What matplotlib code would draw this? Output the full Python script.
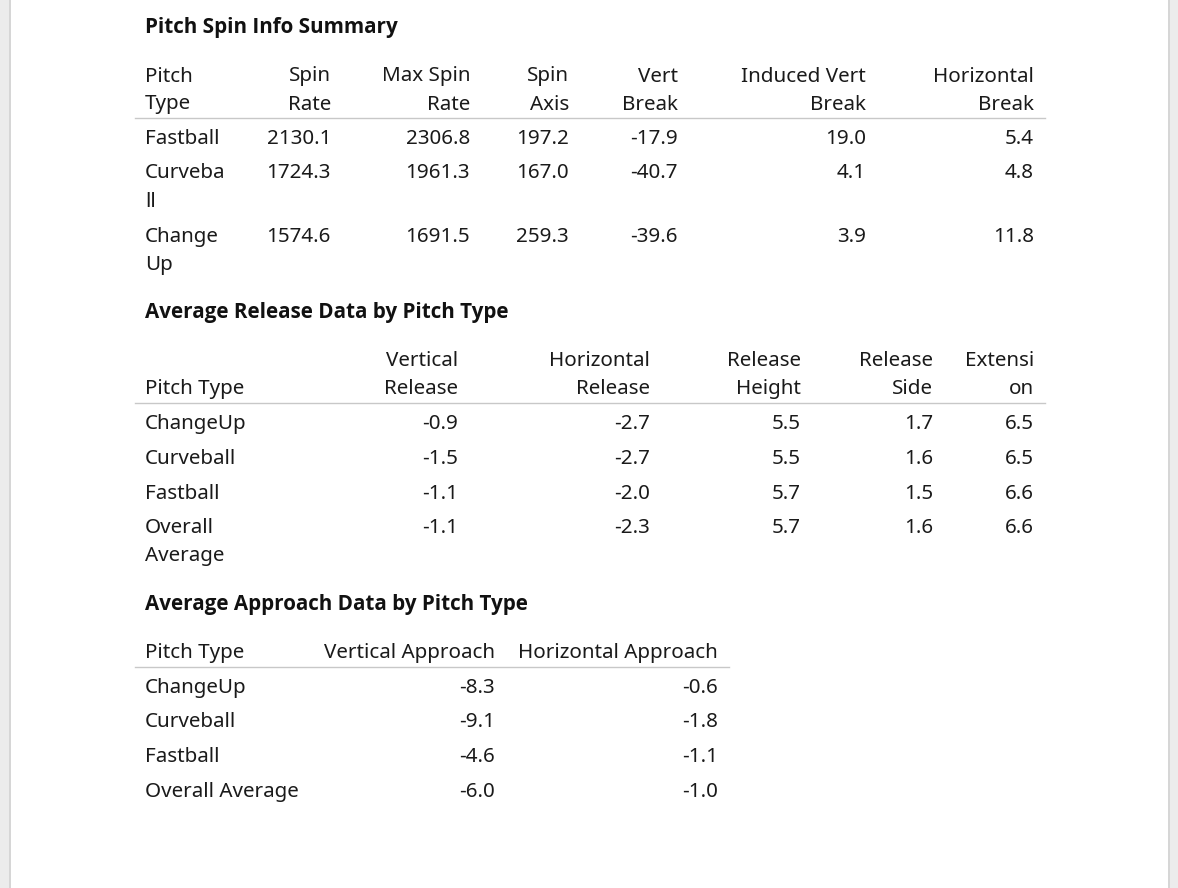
import matplotlib.pyplot as plt
from matplotlib.patches import Rectangle

# table 1: pitch spin info
spin_headers = [("Pitch", "Type"), ("Spin", "Rate"), ("Max Spin", "Rate"), ("Spin", "Axis"),
                ("Vert", "Break"), ("Induced Vert", "Break"), ("Horizontal", "Break")]
spin_pitch = [("Fastball",), ("Curveba", "ll"), ("Change", "Up")]
spin_rate = [2130.1, 1724.3, 1574.6]
max_spin_rate = [2306.8, 1961.3, 1691.5]
spin_axis = [197.2, 167.0, 259.3]
vert_break = [-17.9, -40.7, -39.6]
ivb = [19.0, 4.1, 3.9]
horiz_break = [5.4, 4.8, 11.8]

# table 2: release data
rel_headers = [("", "Pitch Type"), ("Vertical", "Release"), ("Horizontal", "Release"),
               ("Release", "Height"), ("Release", "Side"), ("Extensi", "on")]
rel_pitch = [("ChangeUp",), ("Curveball",), ("Fastball",), ("Overall", "Average")]
vert_release = [-0.9, -1.5, -1.1, -1.1]
horiz_release = [-2.7, -2.7, -2.0, -2.3]
rel_height = [5.5, 5.5, 5.7, 5.7]
rel_side = [1.7, 1.6, 1.5, 1.6]
extension = [6.5, 6.5, 6.6, 6.6]

# table 3: approach data
app_headers = [("Pitch Type",), ("Vertical Approach",), ("Horizontal Approach",)]
app_pitch = ["ChangeUp", "Curveball", "Fastball", "Overall Average"]
vert_approach = [-8.3, -9.1, -4.6, -6.0]
horiz_approach = [-0.6, -1.8, -1.1, -1.0]

FONT = "Noto Sans"
BOLD_FONT = "Open Sans"
FS = 14.85
TXT = "#1a1a1a"
LH = 28  # px between wrapped lines

fig = plt.figure(figsize=(11.78, 8.88), dpi=100)
ax = fig.add_axes([0, 0, 1, 1])
ax.set_xlim(0, 1178)
ax.set_ylim(888, 0)
ax.axis("off")

# page edges
ax.add_patch(Rectangle((0, 0), 9, 888, color="#ececec", lw=0))
ax.add_patch(Rectangle((9, 0), 1.5, 888, color="#d6d6d6", lw=0))
ax.add_patch(Rectangle((1169, 0), 9, 888, color="#ececec", lw=0))
ax.add_patch(Rectangle((1168, 0), 1.5, 888, color="#d6d6d6", lw=0))


def put(x, y, s, ha="left"):
    ax.text(x, y + 2.5, s, ha=ha, va="center", fontsize=FS, family=FONT, color=TXT)


def title(y, s):
    ax.text(145, y + 2, s, ha="left", va="center", fontsize=14.85, family=BOLD_FONT,
            fontweight="bold", color="#111111")


def lines(x, y, parts, ha):
    for i, p in enumerate(parts):
        put(x, y + i * LH, p, ha)


def fmt(v):
    return f"{v:.1f}"


# ---- table 1
title(26, "Pitch Spin Info Summary")
xs1 = [145, 331, 470, 569, 678, 866, 1034]
for i, h in enumerate(spin_headers):
    lines(xs1[i], 74, h, "left" if i == 0 else "right")
ax.plot([135, 1045], [118, 118], color="#c8c8c8", lw=1)
rows1_y = [137, 171, 234]
cols1 = [spin_rate, max_spin_rate, spin_axis, vert_break, ivb, horiz_break]
for r, y in enumerate(rows1_y):
    lines(145, y, spin_pitch[r], "left")
    for c, col in enumerate(cols1):
        put(xs1[c + 1], y, fmt(col[r]), "right")

# ---- table 2
title(310, "Average Release Data by Pitch Type")
xs2 = [145, 458, 650, 801, 933, 1034]
for i, h in enumerate(rel_headers):
    lines(xs2[i], 358, h, "left" if i == 0 else "right")
ax.plot([135, 1045], [403, 403], color="#c8c8c8", lw=1)
rows2_y = [421, 456, 491, 525]
cols2 = [vert_release, horiz_release, rel_height, rel_side, extension]
for r, y in enumerate(rows2_y):
    lines(145, y, rel_pitch[r], "left")
    for c, col in enumerate(cols2):
        put(xs2[c + 1], y, fmt(col[r]), "right")

# ---- table 3
title(602, "Average Approach Data by Pitch Type")
xs3 = [145, 495, 718]
for i, h in enumerate(app_headers):
    lines(xs3[i], 650, h, "left" if i == 0 else "right")
ax.plot([135, 729], [667, 667], color="#c8c8c8", lw=1)
rows3_y = [685, 719, 754, 789]
for r, y in enumerate(rows3_y):
    put(145, y, app_pitch[r])
    put(xs3[1], y, fmt(vert_approach[r]), "right")
    put(xs3[2], y, fmt(horiz_approach[r]), "right")

fig.savefig("out.png", dpi=100)
